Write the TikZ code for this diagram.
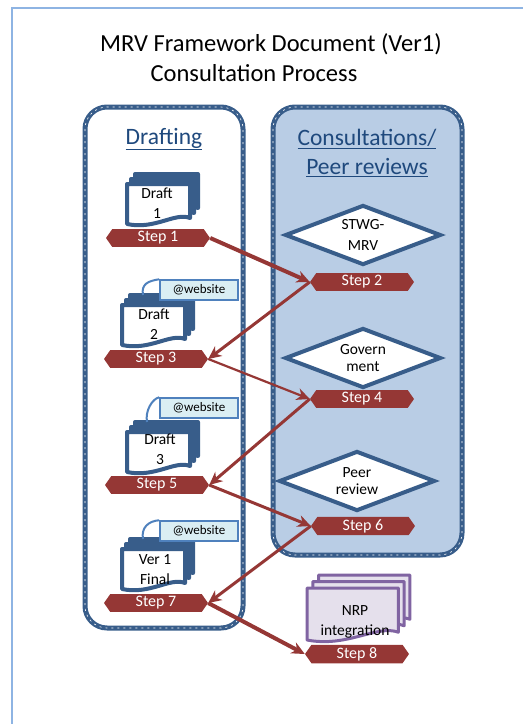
\documentclass[tikz,border=0pt]{standalone}
\usepackage{fontspec}
\setmainfont{Carlito}
\usetikzlibrary{shapes.geometric,shapes.symbols,arrows.meta}

\definecolor{docblue}{RGB}{56,93,138}
\definecolor{panelblue}{RGB}{185,205,229}
\definecolor{headblue}{RGB}{31,73,125}
\definecolor{stepred}{RGB}{149,55,53}
\definecolor{frameblue}{RGB}{142,180,227}
\definecolor{webfill}{RGB}{218,238,243}
\definecolor{webblue}{RGB}{79,129,189}
\definecolor{nrppurple}{RGB}{128,100,162}
\definecolor{nrplav}{RGB}{229,224,236}

\tikzset{
  pics/pagestack/.style n args={4}{code={
    \foreach \dx/\dy in {8/-10,4/-5}
      \filldraw[draw=#1, fill=#2, line width=#4, line join=round, shift={(\dx,\dy)}]
        (0,0) -- (63,0) -- (63,34) .. controls (48,28) and (28,46) .. (0,40) -- cycle;
    \filldraw[draw=#1, fill=#3, line width=#4, line join=round]
      (0,0) -- (63,0) -- (63,34) .. controls (48,28) and (28,46) .. (0,40) -- cycle;
  }}
}

\begin{document}
\begin{tikzpicture}[x=1pt,y=-1pt,
  frameline/.style={draw=frameblue, line width=2},
  panelline/.style={draw=docblue, line width=5, rounded corners=22},
  paneldash/.style={draw=white, line width=0.6, dash pattern=on 2pt off 4pt, rounded corners=22},
  titletext/.style={font=\fontsize{24.5}{28}\selectfont, inner sep=0},
  headtext/.style={text=headblue, font=\fontsize{23.5}{29}\selectfont, align=center, inner sep=0},
  doclabel/.style={font=\fontsize{15.5}{20}\selectfont, align=center, inner sep=0},
  stepbanner/.style={signal, signal to=west and east, signal pointer angle=110,
    fill=stepred, text=white, font=\fontsize{16}{17}\selectfont, inner xsep=0, inner ysep=2.5,
    minimum width=104, minimum height=15},
  gate/.style={diamond, aspect=2.6, draw=docblue, line width=4, fill=white, inner sep=1,
    minimum width=156, minimum height=60, align=center, font=\fontsize{15.5}{17}\selectfont},
  webbox/.style={rectangle, draw=webblue, line width=1.5, fill=webfill, inner sep=0,
    minimum width=78, minimum height=20, font=\fontsize{13}{14}\selectfont},
  curlline/.style={draw=webblue, line width=2},
  steparrow/.style={draw=stepred, line width=3, -{Stealth[length=13pt, width=12pt, inset=4pt]}}
]
\useasboundingbox (0,0) rectangle (523,724);

% page frame and title
\draw[frameline] (12,724) -- (12,8) -- (523,8);
\node[titletext] (title) at (271,44) {MRV Framework Document (Ver1)};
\node[titletext] (subtitle) at (254,73) {Consultation Process};

% the two columns
\fill[panelblue, rounded corners=22] (273,107) rectangle (462,555);
\draw[panelline] (85,107) rectangle (243,628);
\draw[paneldash] (85,107) rectangle (243,628);
\draw[panelline] (273,107) rectangle (462,555);
\draw[paneldash] (273,107) rectangle (462,555);
\node[headtext] (drafthead) at (164,139) {\underline{Drafting}};
\node[headtext] (conshead) at (367,153) {\underline{Consultations/}\\\underline{Peer reviews}};

% drafts
\pic at (127,184) {pagestack={docblue}{docblue}{white}{4}};
\pic at (122,305) {pagestack={docblue}{docblue}{white}{4}};
\pic at (127,432) {pagestack={docblue}{docblue}{white}{4}};
\pic at (122,549) {pagestack={docblue}{docblue}{white}{4}};
\node[doclabel] (draft1) at (157,203) {Draft\\1};
\node[doclabel] (draft2) at (154,324) {Draft\\2};
\node[doclabel] (draft3) at (160,449) {Draft\\3};
\node[doclabel] (final) at (155,570) {Ver 1\\Final};

\node[webbox] (web2) at (199,290) {@website};
\node[webbox] (web3) at (199,408) {@website};
\node[webbox] (web7) at (199,531) {@website};
\draw[curlline] (143,295) .. controls (141,284) and (148,281) .. (web2.north west);
\draw[curlline] (147,422) .. controls (145,411) and (152,399) .. (web3.north west);
\draw[curlline] (143,539) .. controls (141,528) and (148,521) .. (web7.north west);

% consultations
\node[gate] (stwg) at (363,235) {STWG-\\[4pt]MRV};
\node[gate] (govt) at (363,358) {Govern\\ment};
\node[gate] (peer) at (357,481) {Peer\\review};

% integration
\pic[xscale=1.45, yscale=1.3] at (307,588) {pagestack={nrppurple}{nrplav}{nrplav}{3}};
\node[doclabel] (nrp) at (355,622) {NRP\\integration};

% steps
\node[stepbanner] (s1) at (158,238) {Step 1};
\node[stepbanner] (s2) at (362,282) {Step 2};
\node[stepbanner] (s3) at (156,359) {Step 3};
\node[stepbanner] (s4) at (362,399) {Step 4};
\node[stepbanner] (s5) at (157,485) {Step 5};
\node[stepbanner] (s6) at (363,526) {Step 6};
\node[stepbanner] (s7) at (156,603) {Step 7};
\node[stepbanner] (s8) at (357,654) {Step 8};

\draw[steparrow, line width=4] (s1.east) -- (s2.west);
\draw[steparrow] (s2.west) -- (s3.east);
\draw[steparrow, line width=2.2] (s3.east) -- (s4.west);
\draw[steparrow] (s4.west) -- (s5.east);
\draw[steparrow] (s5.east) -- (s6.west);
\draw[steparrow] (s6.west) -- (s7.east);
\draw[steparrow, line width=4] (s7.east) -- (s8.west);
\end{tikzpicture}
\end{document}
